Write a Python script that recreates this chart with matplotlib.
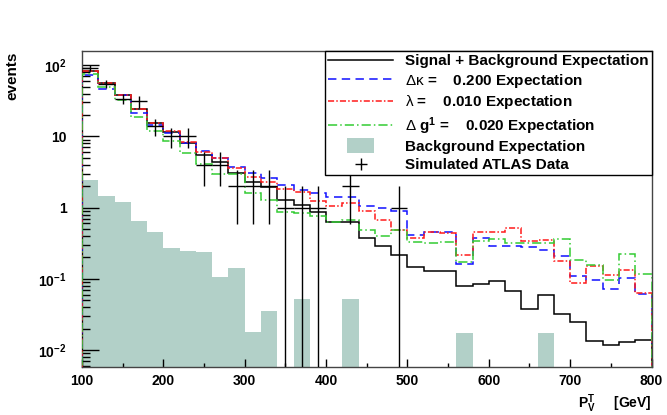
import numpy as np
import matplotlib
matplotlib.use("Agg")
import matplotlib.pyplot as plt
import matplotlib.patches as mpatches
from matplotlib.lines import Line2D
from matplotlib.legend_handler import HandlerPatch
from matplotlib.ticker import FixedLocator, FixedFormatter, LogLocator, NullFormatter

plt.rcParams['font.family'] = ['Liberation Sans', 'DejaVu Sans']
plt.rcParams['mathtext.fontset'] = 'custom'
plt.rcParams['mathtext.rm'] = 'Liberation Sans'
plt.rcParams['mathtext.it'] = 'Liberation Sans:italic'
plt.rcParams['mathtext.bf'] = 'Liberation Sans:bold'

# ---------------- data ----------------
bin_edges = np.linspace(100, 800, 36)   # 35 bins of 20 GeV

signal_plus_bkg = [83, 57, 38, 24, 15.5, 11.5, 8.1, 5.5, 4.4, 3.1, 2.3, 1.96, 1.27, 1.1,
                   0.87, 0.62, 0.62, 0.38, 0.29, 0.215, 0.145, 0.128, 0.128, 0.079,
                   0.084, 0.093, 0.067, 0.038, 0.06, 0.032, 0.025, 0.0135, 0.0117,
                   0.013, 0.014]
delta_kappa = [72, 47, 38, 21, 14.4, 11.2, 8.1, 6.3, 5.05, 3.74, 3.1, 2.6, 2.07, 1.78,
               1.6, 1.42, 1.42, 1.04, 0.98, 0.89, 0.41, 0.455, 0.455, 0.164, 0.381,
               0.288, 0.288, 0.281, 0.253, 0.213, 0.11, 0.096, 0.072, 0.103, 0.062]
lambda_exp = [82, 57, 38, 24.5, 15.5, 11.8, 8.3, 6.0, 5.0, 3.55, 2.7, 2.26, 1.84, 1.67,
              1.23, 1.05, 1.17, 0.9, 0.68, 0.48, 0.38, 0.448, 0.434, 0.215, 0.455,
              0.455, 0.52, 0.342, 0.357, 0.177, 0.089, 0.151, 0.113, 0.132, 0.064]
delta_g1 = [75, 49, 32, 18.8, 11.9, 8.7, 5.8, 4.1, 3.0, 3.0, 1.58, 1.27, 0.88, 0.84,
            0.77, 0.63, 0.67, 0.48, 0.40, 0.48, 0.33, 0.32, 0.33, 0.172, 0.339, 0.361,
            0.324, 0.314, 0.314, 0.361, 0.187, 0.159, 0.096, 0.227, 0.119]
background = [2.43, 1.45, 1.19, 0.65, 0.45, 0.27, 0.25, 0.237, 0.107, 0.143, 0.0177,
              0.036, 0, 0.053, 0, 0, 0.053, 0, 0, 0, 0, 0, 0, 0.0175, 0, 0, 0, 0,
              0.0175, 0, 0, 0, 0, 0, 0]
data_counts = [92, 55, 34, 31, 14, 10, 10, 4, 4, 2, 2, 2, 1, 1, 1, 0, 2, 0, 0, 1,
               0, 0, 0, 0, 0, 0, 0, 0, 0, 0, 0, 0, 0, 0, 0]

x_ticks = [100, 200, 300, 400, 500, 600, 700, 800]
y_ticks = [1e-2, 1e-1, 1, 10, 100]
y_ticklabels = [r'$\mathbf{10^{-2}}$', r'$\mathbf{10^{-1}}$', '1', '10', r'$\mathbf{10^{2}}$']

# ---------------- styles ----------------
TEAL = '#b2d0c8'
BLUE = '#1010ff'
RED = '#ff1a1a'
GREEN = '#33cc33'
YMIN, YMAX = 0.0058, 158
BASE = 1e-4

fig = plt.figure(figsize=(6.67, 4.15), dpi=100)
ax = fig.add_axes([82 / 667, 1 - 367 / 415, (651.5 - 82) / 667, (367 - 51) / 415])
ax.set_yscale('log')

bg = np.array(background, dtype=float)
ax.stairs(np.where(bg > 0, bg, BASE), bin_edges, baseline=BASE, fill=True,
          color=TEAL, lw=0, zorder=1)

ax.stairs(signal_plus_bkg, bin_edges, baseline=BASE, color='black', lw=1.1, zorder=3)
ax.stairs(delta_kappa, bin_edges, baseline=BASE, color=BLUE, lw=1.1,
          linestyle=(0, (5.5, 3.5)), zorder=3)
ax.stairs(lambda_exp, bin_edges, baseline=BASE, color=RED, lw=1.1,
          linestyle=(0, (4, 1.4, 1, 1.4)), zorder=3)
ax.stairs(delta_g1, bin_edges, baseline=BASE, color=GREEN, lw=1.1,
          linestyle=(0, (6, 2, 1, 2)), zorder=3)

counts = np.array(data_counts, dtype=float)
centers = 0.5 * (bin_edges[:-1] + bin_edges[1:])
m = counts > 0
err = np.sqrt(counts[m])
lo = np.maximum(counts[m] - err, BASE)
ax.errorbar(centers[m], counts[m], xerr=10, yerr=[counts[m] - lo, err],
            fmt='none', ecolor='black', elinewidth=1.0, capsize=0, zorder=4)

ax.set_xlim(100, 800)
ax.set_ylim(YMIN, YMAX)
ax.xaxis.set_major_locator(FixedLocator(x_ticks))
ax.xaxis.set_minor_locator(FixedLocator([150, 250, 350, 450, 550, 650, 750]))
ax.set_xticklabels([str(v) for v in x_ticks], fontsize=10, fontweight='bold')
ax.yaxis.set_major_locator(FixedLocator(y_ticks))
ax.yaxis.set_major_formatter(FixedFormatter(y_ticklabels))
ax.yaxis.set_minor_locator(LogLocator(base=10, subs=np.arange(2, 10)))
ax.yaxis.set_minor_formatter(NullFormatter())
for t in ax.get_yticklabels():
    t.set_fontsize(10)
    t.set_fontweight('bold')

ax.tick_params(which='both', direction='in', top=False, right=False, color='black')
ax.tick_params(axis='y', which='major', length=12, width=1, pad=11)
ax.tick_params(axis='y', which='minor', length=6, width=1)
ax.tick_params(axis='x', which='major', length=6, width=1, pad=5)
ax.tick_params(axis='x', which='minor', length=3, width=1)
for s in ax.spines.values():
    s.set_color('#444444')
    s.set_linewidth(1.0)

fig.text(12 / 667, 1 - 52 / 415, 'events', rotation=90, ha='center', va='top',
         fontsize=11, fontweight='bold')
fig.text(652 / 667, 1 - 408 / 415, r'$\mathbf{P}_{\mathbf{V}}^{\mathbf{T}}$     [GeV]',
         ha='right', va='baseline', fontsize=10, fontweight='bold')

# ---------------- legend ----------------
def small_rect(legend, orig_handle, xdescent, ydescent, width, height, fontsize):
    w = width * 0.42
    h = height * 1.4
    return mpatches.Rectangle((-xdescent + (width - w) / 2, -ydescent + (height - h) / 2), w, h)

handles = [
    Line2D([], [], color='black', lw=1.1),
    Line2D([], [], color=BLUE, lw=1.1, linestyle=(0, (5.5, 3.5))),
    Line2D([], [], color=RED, lw=1.1, linestyle=(0, (4, 1.4, 1, 1.4))),
    Line2D([], [], color=GREEN, lw=1.1, linestyle=(0, (6, 2, 1, 2))),
    mpatches.Patch(facecolor=TEAL, edgecolor='none'),
    Line2D([], [], color='black', marker='+', linestyle='none', markersize=8,
           markeredgewidth=1.0),
]
labels = [
    'Signal + Background Expectation',
    r'$\mathrm{\Delta\kappa}$ =    0.200 Expectation',
    r'$\mathrm{\lambda}$ =    0.010 Expectation',
    r'$\mathrm{\Delta}$ g$^{\mathbf{1}}$ =    0.020 Expectation',
    'Background Expectation',
    'Simulated ATLAS Data',
]
leg = ax.legend(handles, labels, loc='upper right', bbox_to_anchor=(1, 1),
                borderaxespad=0, frameon=True, fancybox=False, framealpha=1,
                edgecolor='black', prop={'family': 'Liberation Sans', 'weight': 'bold', 'size': 11},
                handlelength=4.2, handletextpad=0.8, labelspacing=0.24, borderpad=0.2,
                handler_map={mpatches.Patch: HandlerPatch(patch_func=small_rect)})
leg.get_frame().set_linewidth(1.0)
leg.set_zorder(10)

fig.savefig('out.png', dpi=100)
